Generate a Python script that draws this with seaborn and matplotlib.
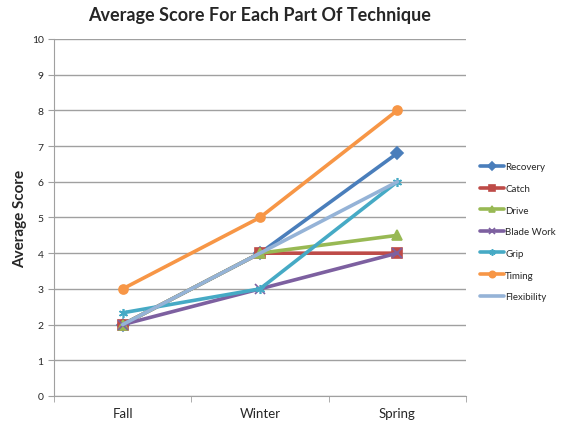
import pandas as pd
import matplotlib
matplotlib.use('Agg')
import matplotlib.pyplot as plt
import seaborn as sns

seasons = ['Fall', 'Winter', 'Spring']
recovery = [2, 4, 6.8]
catch = [2, 4, 4]
drive = [2, 4, 4.5]
blade_work = [2, 3, 4]
grip = [2.33, 3, 6]
timing = [3, 5, 8]
flexibility = [2, 4, 6]

series_names = ['Recovery', 'Catch', 'Drive', 'Blade Work', 'Grip', 'Timing', 'Flexibility']
series_values = [recovery, catch, drive, blade_work, grip, timing, flexibility]
colores = ['#4A7EBB', '#BE4B48', '#98B954', '#7D60A0', '#46AAC5', '#F79646', '#95B3D7']
marcadores = ['D', 's', '^', 'x', (6, 2, 0), 'o', '']

linhas = []
for nome, vals in zip(series_names, series_values):
    for s, v in zip(seasons, vals):
        linhas.append({'Season': s, 'Score': v, 'Part': nome})
df = pd.DataFrame(linhas)

sns.set_style('white')
plt.rcParams['font.family'] = ['Lato', 'DejaVu Sans']

fig = plt.figure(figsize=(5.65, 4.27), dpi=100)
ax = fig.add_axes([0.0956, 0.0703, 0.7292, 0.8361])

for nome, cor, m in zip(series_names, colores, marcadores):
    sub = df[df['Part'] == nome]
    sns.lineplot(data=sub, x='Season', y='Score', color=cor, marker=m if m else None,
                 markersize=6.5, markeredgecolor=cor, markeredgewidth=1.2,
                 linewidth=2.6, label=nome, ax=ax, sort=False)

ax.set_xlim(-0.5, 2.5)
ax.set_ylim(0, 10)
ax.set_yticks(range(0, 11))
ax.yaxis.grid(True, color='#a0a0a0', linewidth=1)
ax.set_axisbelow(True)
for lado in ['top', 'right']:
    ax.spines[lado].set_visible(False)
ax.spines['left'].set_color('#a0a0a0')
ax.spines['bottom'].set_color('#a0a0a0')
ax.set_xticks([0, 1, 2])
ax.set_xticklabels(seasons, fontsize=9.5)
ax.set_xticks([-0.5, 0.5, 1.5, 2.5], minor=True)
ax.tick_params(axis='x', which='major', length=0, pad=8)
ax.tick_params(axis='x', which='minor', length=4, color='#a0a0a0', direction='out', bottom=True)
ax.tick_params(axis='y', length=4, color='#a0a0a0', direction='out', left=True, labelsize=7.5)
ax.set_xlabel('')
ax.set_ylabel('Average Score', fontsize=11, fontweight='bold', labelpad=3)
ax.set_title('Average Score For Each Part Of Technique', fontsize=13, fontweight='bold', pad=14)

ax.legend(loc='center left', bbox_to_anchor=(1.035, 0.46), frameon=False, fontsize=7,
          handlelength=2.4, labelspacing=1.3, handletextpad=0.15, borderaxespad=0,
          borderpad=0, markerscale=0.7)

fig.savefig('out.png', dpi=100)
